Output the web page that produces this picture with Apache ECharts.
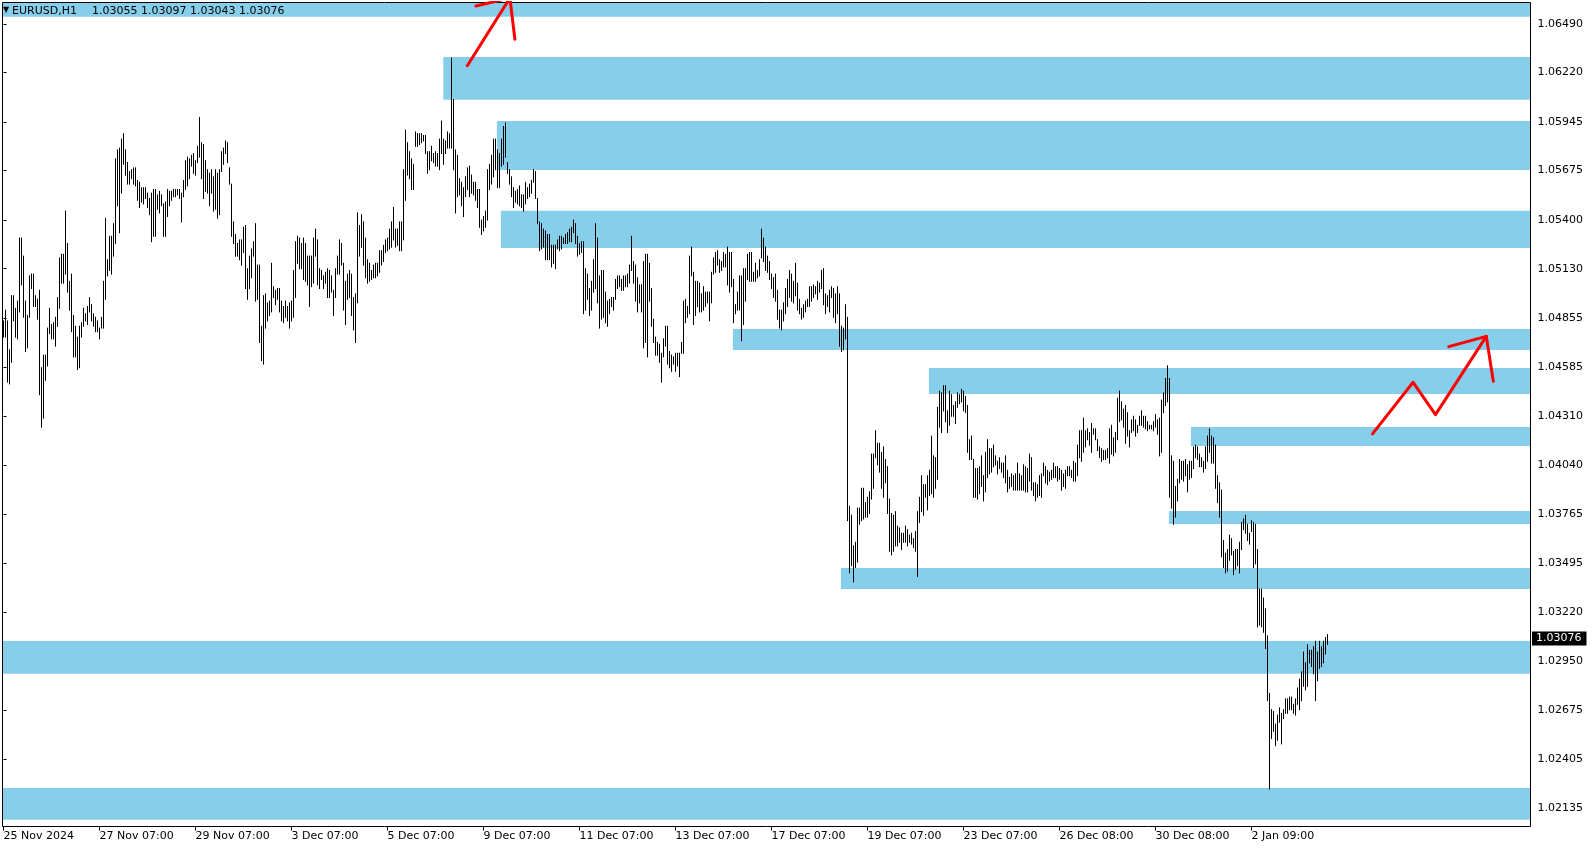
<!DOCTYPE html>
<html><head><meta charset="utf-8">
<script src="https://cdn.jsdelivr.net/npm/echarts@6/dist/echarts.min.js"></script>
<style>html,body{margin:0;padding:0;background:#fff}#c{width:1594px;height:850px}</style>
</head><body><div id="c"></div>
<script>
// ---------------- data ----------------
const symbolName = 'EURUSD,H1';
const lastBar = [1.03055, 1.03097, 1.03043, 1.03076]; // open, high, low, close of the latest hourly bar

// hourly bar highs / lows, 25 Nov 2024 08:00 .. 3 Jan 2025 23:00 (bar index 0..662)
const highs = [
1.0484,1.0490,1.0484,1.0468,1.0498,1.0498,1.0491,1.0495,1.0530,1.0530,
1.0520,1.0495,1.0487,1.0509,1.0510,1.0510,1.0498,1.0496,1.0501,1.0458,
1.0465,1.0465,1.0480,1.0491,1.0482,1.0483,1.0486,1.0497,1.0519,1.0521,
1.0521,1.0545,1.0527,1.0506,1.0510,1.0487,1.0481,1.0475,1.0481,1.0483,
1.0491,1.0488,1.0492,1.0497,1.0493,1.0488,1.0486,1.0484,1.0480,1.0486,
1.0506,1.0541,1.0518,1.0531,1.0531,1.0538,1.0574,1.0579,1.0580,1.0585,
1.0588,1.0579,1.0572,1.0567,1.0568,1.0569,1.0569,1.0562,1.0561,1.0558,
1.0558,1.0558,1.0555,1.0552,1.0555,1.0557,1.0557,1.0554,1.0556,1.0554,
1.0549,1.0550,1.0557,1.0556,1.0556,1.0557,1.0557,1.0557,1.0557,1.0555,
1.0562,1.0573,1.0575,1.0574,1.0576,1.0577,1.0573,1.0581,1.0597,1.0583,
1.0582,1.0573,1.0568,1.0566,1.0568,1.0564,1.0568,1.0566,1.0568,1.0578,
1.0580,1.0584,1.0583,1.0569,1.0560,1.0539,1.0532,1.0527,1.0529,1.0529,
1.0536,1.0537,1.0513,1.0520,1.0524,1.0528,1.0538,1.0515,1.0515,1.0481,
1.0498,1.0499,1.0494,1.0495,1.0516,1.0503,1.0501,1.0502,1.0502,1.0495,
1.0492,1.0495,1.0492,1.0494,1.0495,1.0512,1.0528,1.0531,1.0530,1.0527,
1.0530,1.0527,1.0520,1.0520,1.0520,1.0530,1.0535,1.0529,1.0513,1.0512,
1.0509,1.0511,1.0513,1.0512,1.0509,1.0501,1.0513,1.0520,1.0529,1.0527,
1.0516,1.0506,1.0510,1.0512,1.0510,1.0497,1.0499,1.0544,1.0537,1.0543,
1.0539,1.0530,1.0518,1.0516,1.0512,1.0515,1.0516,1.0516,1.0523,1.0523,
1.0526,1.0529,1.0530,1.0535,1.0539,1.0547,1.0535,1.0535,1.0539,1.0539,
1.0568,1.0590,1.0583,1.0578,1.0574,1.0571,1.0589,1.0588,1.0588,1.0588,
1.0587,1.0587,1.0578,1.0578,1.0581,1.0577,1.0578,1.0577,1.0585,1.0595,
1.0585,1.0584,1.0589,1.0588,1.0630,1.0607,1.0579,1.0576,1.0563,1.0561,
1.0558,1.0564,1.0569,1.0570,1.0565,1.0561,1.0561,1.0557,1.0557,1.0540,
1.0542,1.0545,1.0568,1.0571,1.0576,1.0585,1.0585,1.0579,1.0577,1.0585,
1.0592,1.0594,1.0572,1.0568,1.0564,1.0558,1.0556,1.0557,1.0559,1.0554,
1.0554,1.0561,1.0558,1.0560,1.0562,1.0568,1.0567,1.0552,1.0539,1.0538,
1.0535,1.0534,1.0532,1.0532,1.0526,1.0526,1.0526,1.0529,1.0531,1.0531,
1.0530,1.0532,1.0533,1.0535,1.0536,1.0540,1.0538,1.0531,1.0527,1.0528,
1.0528,1.0513,1.0510,1.0502,1.0506,1.0518,1.0538,1.0530,1.0509,1.0512,
1.0512,1.0500,1.0495,1.0496,1.0497,1.0497,1.0507,1.0509,1.0509,1.0507,
1.0509,1.0509,1.0510,1.0515,1.0531,1.0517,1.0515,1.0508,1.0504,1.0504,
1.0517,1.0521,1.0521,1.0516,1.0502,1.0485,1.0475,1.0472,1.0471,1.0466,
1.0474,1.0481,1.0481,1.0467,1.0465,1.0464,1.0466,1.0466,1.0466,1.0472,
1.0495,1.0496,1.0492,1.0520,1.0525,1.0511,1.0506,1.0506,1.0505,1.0499,
1.0503,1.0500,1.0500,1.0500,1.0511,1.0519,1.0522,1.0523,1.0518,1.0517,
1.0522,1.0521,1.0525,1.0522,1.0522,1.0507,1.0493,1.0500,1.0509,1.0509,
1.0513,1.0513,1.0521,1.0522,1.0522,1.0511,1.0516,1.0512,1.0518,1.0535,
1.0530,1.0525,1.0520,1.0517,1.0510,1.0508,1.0510,1.0501,1.0490,1.0490,
1.0494,1.0502,1.0507,1.0512,1.0510,1.0506,1.0516,1.0505,1.0496,1.0491,
1.0493,1.0495,1.0496,1.0503,1.0503,1.0504,1.0503,1.0506,1.0505,1.0512,
1.0513,1.0499,1.0498,1.0501,1.0503,1.0502,1.0499,1.0503,1.0499,1.0481,
1.0480,1.0493,1.0486,1.0381,1.0376,1.0359,1.0361,1.0380,1.0380,1.0391,
1.0391,1.0383,1.0386,1.0389,1.0410,1.0410,1.0423,1.0416,1.0416,1.0411,
1.0414,1.0407,1.0403,1.0385,1.0377,1.0376,1.0378,1.0370,1.0369,1.0366,
1.0366,1.0370,1.0368,1.0365,1.0366,1.0363,1.0367,1.0378,1.0386,1.0398,
1.0393,1.0393,1.0398,1.0401,1.0420,1.0409,1.0408,1.0436,1.0445,1.0444,
1.0448,1.0448,1.0434,1.0445,1.0443,1.0437,1.0439,1.0444,1.0443,1.0446,
1.0445,1.0442,1.0437,1.0418,1.0420,1.0407,1.0402,1.0402,1.0403,1.0409,
1.0398,1.0411,1.0418,1.0413,1.0413,1.0415,1.0409,1.0406,1.0408,1.0405,
1.0405,1.0409,1.0401,1.0397,1.0399,1.0398,1.0399,1.0405,1.0399,1.0398,
1.0404,1.0403,1.0402,1.0410,1.0408,1.0394,1.0394,1.0393,1.0398,1.0399,
1.0405,1.0403,1.0401,1.0400,1.0401,1.0405,1.0403,1.0403,1.0402,1.0401,
1.0399,1.0401,1.0403,1.0403,1.0401,1.0406,1.0405,1.0415,1.0423,1.0423,
1.0430,1.0423,1.0424,1.0422,1.0427,1.0424,1.0424,1.0418,1.0414,1.0413,
1.0412,1.0412,1.0413,1.0424,1.0426,1.0419,1.0422,1.0441,1.0445,1.0439,
1.0435,1.0437,1.0433,1.0423,1.0429,1.0431,1.0429,1.0426,1.0431,1.0434,
1.0431,1.0431,1.0428,1.0426,1.0426,1.0428,1.0432,1.0429,1.0430,1.0440,
1.0444,1.0452,1.0459,1.0452,1.0409,1.0406,1.0392,1.0396,1.0407,1.0406,
1.0406,1.0407,1.0404,1.0406,1.0406,1.0414,1.0415,1.0414,1.0410,1.0408,
1.0406,1.0414,1.0420,1.0424,1.0420,1.0419,1.0415,1.0398,1.0394,1.0390,
1.0362,1.0355,1.0357,1.0365,1.0363,1.0356,1.0357,1.0357,1.0361,1.0372,
1.0374,1.0376,1.0371,1.0366,1.0373,1.0372,1.0371,1.0357,1.0335,1.0335,
1.0330,1.0324,1.0309,1.0277,1.0268,1.0267,1.0260,1.0265,1.0269,1.0266,
1.0268,1.0274,1.0274,1.0275,1.0275,1.0271,1.0274,1.0280,1.0285,1.0289,
1.0300,1.0294,1.0304,1.0301,1.0301,1.0303,1.0306,1.0300,1.0306,1.0303,
1.0306,1.0308,1.03097
];
const lows = [
1.0475,1.0475,1.0450,1.0449,1.0461,1.0484,1.0475,1.0474,1.0489,1.0504,
1.0486,1.0467,1.0469,1.0486,1.0502,1.0492,1.0492,1.0485,1.0443,1.0425,
1.0430,1.0451,1.0459,1.0477,1.0474,1.0474,1.0470,1.0481,1.0491,1.0505,
1.0505,1.0510,1.0500,1.0490,1.0478,1.0464,1.0464,1.0457,1.0458,1.0475,
1.0481,1.0484,1.0482,1.0489,1.0484,1.0481,1.0478,1.0478,1.0474,1.0480,
1.0480,1.0496,1.0509,1.0512,1.0510,1.0520,1.0527,1.0548,1.0533,1.0555,
1.0571,1.0565,1.0560,1.0560,1.0563,1.0560,1.0559,1.0551,1.0547,1.0550,
1.0549,1.0552,1.0547,1.0543,1.0528,1.0531,1.0531,1.0546,1.0544,1.0548,
1.0531,1.0531,1.0542,1.0548,1.0551,1.0553,1.0553,1.0554,1.0552,1.0539,
1.0553,1.0557,1.0559,1.0563,1.0570,1.0566,1.0565,1.0572,1.0575,1.0563,
1.0552,1.0556,1.0555,1.0548,1.0555,1.0545,1.0546,1.0541,1.0543,1.0567,
1.0571,1.0577,1.0572,1.0560,1.0531,1.0527,1.0520,1.0520,1.0518,1.0515,
1.0522,1.0502,1.0496,1.0502,1.0508,1.0520,1.0495,1.0496,1.0472,1.0462,
1.0460,1.0480,1.0484,1.0487,1.0489,1.0497,1.0493,1.0496,1.0489,1.0484,
1.0483,1.0486,1.0484,1.0480,1.0484,1.0486,1.0497,1.0516,1.0513,1.0513,
1.0507,1.0506,1.0504,1.0492,1.0503,1.0505,1.0520,1.0504,1.0502,1.0507,
1.0502,1.0505,1.0497,1.0497,1.0500,1.0487,1.0497,1.0510,1.0510,1.0515,
1.0490,1.0482,1.0496,1.0497,1.0487,1.0479,1.0472,1.0494,1.0520,1.0525,
1.0515,1.0508,1.0505,1.0506,1.0507,1.0508,1.0508,1.0509,1.0511,1.0515,
1.0517,1.0522,1.0523,1.0524,1.0525,1.0529,1.0525,1.0526,1.0523,1.0523,
1.0529,1.0551,1.0565,1.0563,1.0557,1.0557,1.0581,1.0581,1.0582,1.0583,
1.0584,1.0577,1.0566,1.0568,1.0573,1.0572,1.0570,1.0570,1.0568,1.0577,
1.0571,1.0577,1.0580,1.0580,1.0580,1.0568,1.0544,1.0553,1.0554,1.0548,
1.0542,1.0553,1.0557,1.0553,1.0555,1.0554,1.0551,1.0547,1.0536,1.0532,
1.0534,1.0536,1.0540,1.0557,1.0560,1.0564,1.0568,1.0558,1.0558,1.0570,
1.0571,1.0575,1.0566,1.0560,1.0553,1.0547,1.0550,1.0549,1.0548,1.0547,
1.0545,1.0549,1.0552,1.0553,1.0555,1.0561,1.0552,1.0538,1.0523,1.0524,
1.0525,1.0518,1.0518,1.0518,1.0514,1.0516,1.0513,1.0524,1.0523,1.0524,
1.0527,1.0527,1.0527,1.0528,1.0528,1.0533,1.0527,1.0520,1.0521,1.0522,
1.0488,1.0490,1.0496,1.0487,1.0490,1.0500,1.0502,1.0494,1.0480,1.0485,
1.0486,1.0483,1.0481,1.0488,1.0492,1.0490,1.0496,1.0502,1.0503,1.0501,
1.0501,1.0503,1.0503,1.0505,1.0512,1.0505,1.0495,1.0489,1.0494,1.0489,
1.0469,1.0472,1.0464,1.0495,1.0481,1.0472,1.0465,1.0465,1.0461,1.0450,
1.0464,1.0470,1.0460,1.0458,1.0456,1.0460,1.0456,1.0459,1.0453,1.0466,
1.0466,1.0483,1.0486,1.0488,1.0509,1.0482,1.0487,1.0492,1.0489,1.0489,
1.0490,1.0492,1.0494,1.0484,1.0494,1.0510,1.0511,1.0515,1.0511,1.0512,
1.0514,1.0514,1.0504,1.0500,1.0503,1.0483,1.0488,1.0490,1.0490,1.0473,
1.0482,1.0495,1.0507,1.0506,1.0506,1.0506,1.0506,1.0508,1.0509,1.0519,
1.0517,1.0512,1.0511,1.0507,1.0502,1.0497,1.0495,1.0485,1.0480,1.0479,
1.0484,1.0488,1.0492,1.0497,1.0495,1.0494,1.0498,1.0490,1.0488,1.0485,
1.0486,1.0489,1.0492,1.0492,1.0495,1.0497,1.0499,1.0496,1.0500,1.0502,
1.0493,1.0488,1.0492,1.0489,1.0497,1.0486,1.0483,1.0488,1.0470,1.0467,
1.0468,1.0474,1.0373,1.0344,1.0348,1.0339,1.0347,1.0350,1.0371,1.0373,
1.0374,1.0375,1.0375,1.0377,1.0385,1.0391,1.0408,1.0404,1.0400,1.0391,
1.0386,1.0394,1.0377,1.0356,1.0354,1.0356,1.0359,1.0359,1.0361,1.0357,
1.0361,1.0361,1.0359,1.0361,1.0360,1.0358,1.0356,1.0342,1.0372,1.0378,
1.0376,1.0386,1.0379,1.0387,1.0388,1.0386,1.0391,1.0396,1.0425,1.0422,
1.0434,1.0428,1.0422,1.0426,1.0431,1.0431,1.0427,1.0436,1.0438,1.0439,
1.0434,1.0433,1.0411,1.0407,1.0407,1.0386,1.0386,1.0385,1.0388,1.0392,
1.0384,1.0389,1.0397,1.0399,1.0400,1.0403,1.0404,1.0399,1.0402,1.0400,
1.0397,1.0394,1.0389,1.0391,1.0392,1.0390,1.0390,1.0390,1.0390,1.0390,
1.0390,1.0389,1.0389,1.0395,1.0390,1.0387,1.0384,1.0386,1.0387,1.0386,
1.0398,1.0394,1.0393,1.0395,1.0396,1.0397,1.0397,1.0395,1.0396,1.0390,
1.0392,1.0391,1.0398,1.0398,1.0397,1.0395,1.0395,1.0398,1.0408,1.0406,
1.0411,1.0414,1.0418,1.0415,1.0411,1.0421,1.0418,1.0412,1.0408,1.0406,
1.0407,1.0407,1.0408,1.0405,1.0410,1.0409,1.0411,1.0418,1.0428,1.0429,
1.0425,1.0416,1.0420,1.0414,1.0422,1.0423,1.0420,1.0422,1.0426,1.0426,
1.0425,1.0424,1.0423,1.0424,1.0424,1.0423,1.0425,1.0421,1.0409,1.0411,
1.0433,1.0437,1.0439,1.0386,1.0380,1.0371,1.0375,1.0384,1.0394,1.0396,
1.0395,1.0398,1.0389,1.0396,1.0397,1.0402,1.0408,1.0407,1.0403,1.0403,
1.0400,1.0402,1.0406,1.0411,1.0405,1.0405,1.0391,1.0383,1.0375,1.0353,
1.0347,1.0344,1.0345,1.0351,1.0354,1.0343,1.0346,1.0348,1.0344,1.0357,
1.0368,1.0366,1.0362,1.0360,1.0367,1.0347,1.0349,1.0314,1.0315,1.0314,
1.0311,1.0302,1.0273,1.0224,1.0252,1.0256,1.0248,1.0251,1.0261,1.0249,
1.0263,1.0266,1.0266,1.0268,1.0268,1.0266,1.0265,1.0271,1.0268,1.0273,
1.0281,1.0279,1.0281,1.0294,1.0292,1.0288,1.0273,1.0284,1.0291,1.0292,
1.0294,1.0299,1.03043
];

// time-axis labels and the bar index each one belongs to
const timeLabels = ['25 Nov 2024','27 Nov 07:00','29 Nov 07:00','3 Dec 07:00','5 Dec 07:00','9 Dec 07:00','11 Dec 07:00','13 Dec 07:00','17 Dec 07:00','19 Dec 07:00','23 Dec 07:00','26 Dec 08:00','30 Dec 08:00','2 Jan 09:00'];
const timeLabelBars = [0,48,96,144,192,240,288,336,384,432,480,528,576,624];

// price-axis labels
const priceTicks = [1.06490,1.06220,1.05945,1.05675,1.05400,1.05130,1.04855,1.04585,1.04310,1.04040,1.03765,1.03495,1.03220,1.02950,1.02675,1.02405,1.02135];

// supply / demand zones: lower price, upper price, bar index where the zone begins (null = whole chart)
const zoneLow  = [1.06530,1.06069,1.05679,1.05245,1.04679,1.04434,1.04145,1.03712,1.03351,1.02879,1.02068];
const zoneHigh = [1.06800,1.06306,1.05951,1.05452,1.04795,1.04579,1.04251,1.03784,1.03467,1.03062,1.02245];
const zoneStartBar = [null,219.9,246.7,248.7,364.7,462.7,593.7,582.7,418.7,null,null];

// hand-drawn red arrows, as [bar index, price]
const arrowUpShaft = [[231.9,1.06258],[253.2,1.06634],[255.7,1.06405]];
const arrowUpBarb  = [[253.2,1.06634],[236.2,1.06590]];
const arrowZigzag  = [[684.5,1.04212],[704.8,1.04499],[716.0,1.04319],[741.4,1.04754],[744.9,1.04505]];
const arrowZigBarb = [[722.6,1.04697],[741.4,1.04754]];

// ---------------- chart ----------------
const X_MIN = -0.5, X_MAX = 763.5;
const Y_MIN = 1.02031, Y_MAX = 1.06609;
const FONT = 'DejaVu Sans';
const ZONE_COLOR = '#87CEEB';

const chart = echarts.init(document.getElementById('c'));

const barData = highs.map((h, i) => [i, h, lows[i]]);
const zoneData = zoneLow.map((lo, k) => [zoneStartBar[k] === null ? X_MIN : zoneStartBar[k], lo, zoneHigh[k]]);

function arrowSeries(data) {
  return {
    type: 'line', data: data, symbol: 'none', clip: true, silent: true, z: 5,
    lineStyle: { color: '#ff0000', width: 3, cap: 'round', join: 'round' }
  };
}

const option = {
  animation: false,
  backgroundColor: '#ffffff',
  grid: { left: 2.5, top: 2.5, right: 63.5, bottom: 23.5, show: true, borderColor: '#000', borderWidth: 1, backgroundColor: 'transparent' },
  xAxis: {
    type: 'value', min: X_MIN, max: X_MAX,
    axisLine: { show: false }, splitLine: { show: false },
    axisTick: { show: true, customValues: timeLabelBars, length: 4, lineStyle: { color: '#000' } },
    axisLabel: {
      customValues: timeLabelBars, align: 'left', margin: 4, color: '#000',
      fontFamily: FONT, fontSize: 11,
      formatter: v => timeLabels[timeLabelBars.indexOf(v)]
    }
  },
  yAxis: {
    type: 'value', position: 'right', min: Y_MIN, max: Y_MAX, scale: true,
    axisLine: { show: false }, splitLine: { show: false },
    axisTick: { show: true, customValues: priceTicks, length: 3, lineStyle: { color: '#000' } },
    axisLabel: {
      customValues: priceTicks, margin: 7, color: '#000', fontFamily: FONT, fontSize: 11,
      formatter: v => v.toFixed(5)
    }
  },
  series: [
    {
      type: 'custom', data: zoneData, silent: true, z: 1,
      renderItem: function (params, api) {
        const p1 = api.coord([api.value(0), api.value(2)]);
        const p2 = api.coord([X_MAX, api.value(1)]);
        const cs = params.coordSys;
        const shape = echarts.graphic.clipRectByRect(
          { x: p1[0], y: p1[1], width: p2[0] - p1[0], height: p2[1] - p1[1] },
          { x: cs.x + 0.5, y: cs.y + 0.5, width: cs.width - 1, height: cs.height - 1 });
        return shape && { type: 'rect', shape: shape, style: { fill: ZONE_COLOR } };
      }
    },
    {
      type: 'custom', data: barData, silent: true, z: 3,
      renderItem: function (params, api) {
        const top = api.coord([api.value(0), api.value(1)]);
        const bot = api.coord([api.value(0), api.value(2)]);
        return { type: 'line', shape: { x1: top[0], y1: top[1] - 0.5, x2: bot[0], y2: bot[1] + 0.5 }, style: { stroke: '#000', lineWidth: 1 } };
      }
    },
    arrowSeries(arrowUpShaft),
    arrowSeries(arrowUpBarb),
    arrowSeries(arrowZigzag),
    arrowSeries(arrowZigBarb)
  ],
  graphic: [
    { type: 'text', left: 3, top: 6, z: 100, style: { text: '\u25BC', font: '8px ' + FONT, fill: '#000' } },
    { type: 'text', left: 12, top: 6, z: 100, style: { text: symbolName, font: '11px ' + FONT, fill: '#000' } },
    { type: 'text', left: 92, top: 6, z: 100, style: { text: lastBar.map(v => v.toFixed(5)).join(' '), font: '11px ' + FONT, fill: '#000' } }
  ]
};
chart.setOption(option);

// current-price tag on the price scale, placed through the chart's own coordinate conversion
const tagPos = chart.convertToPixel({ gridIndex: 0 }, [X_MAX, lastBar[3]]);
chart.setOption({
  graphic: [{
    id: 'priceTag', type: 'text', z: 100,
    x: tagPos[0] + 1.5, y: tagPos[1],
    style: {
      text: lastBar[3].toFixed(5), font: '11px ' + FONT, fill: '#fff',
      backgroundColor: '#000', padding: [2, 5, 1, 4], verticalAlign: 'middle', align: 'left'
    }
  }]
});
</script>
</body></html>
